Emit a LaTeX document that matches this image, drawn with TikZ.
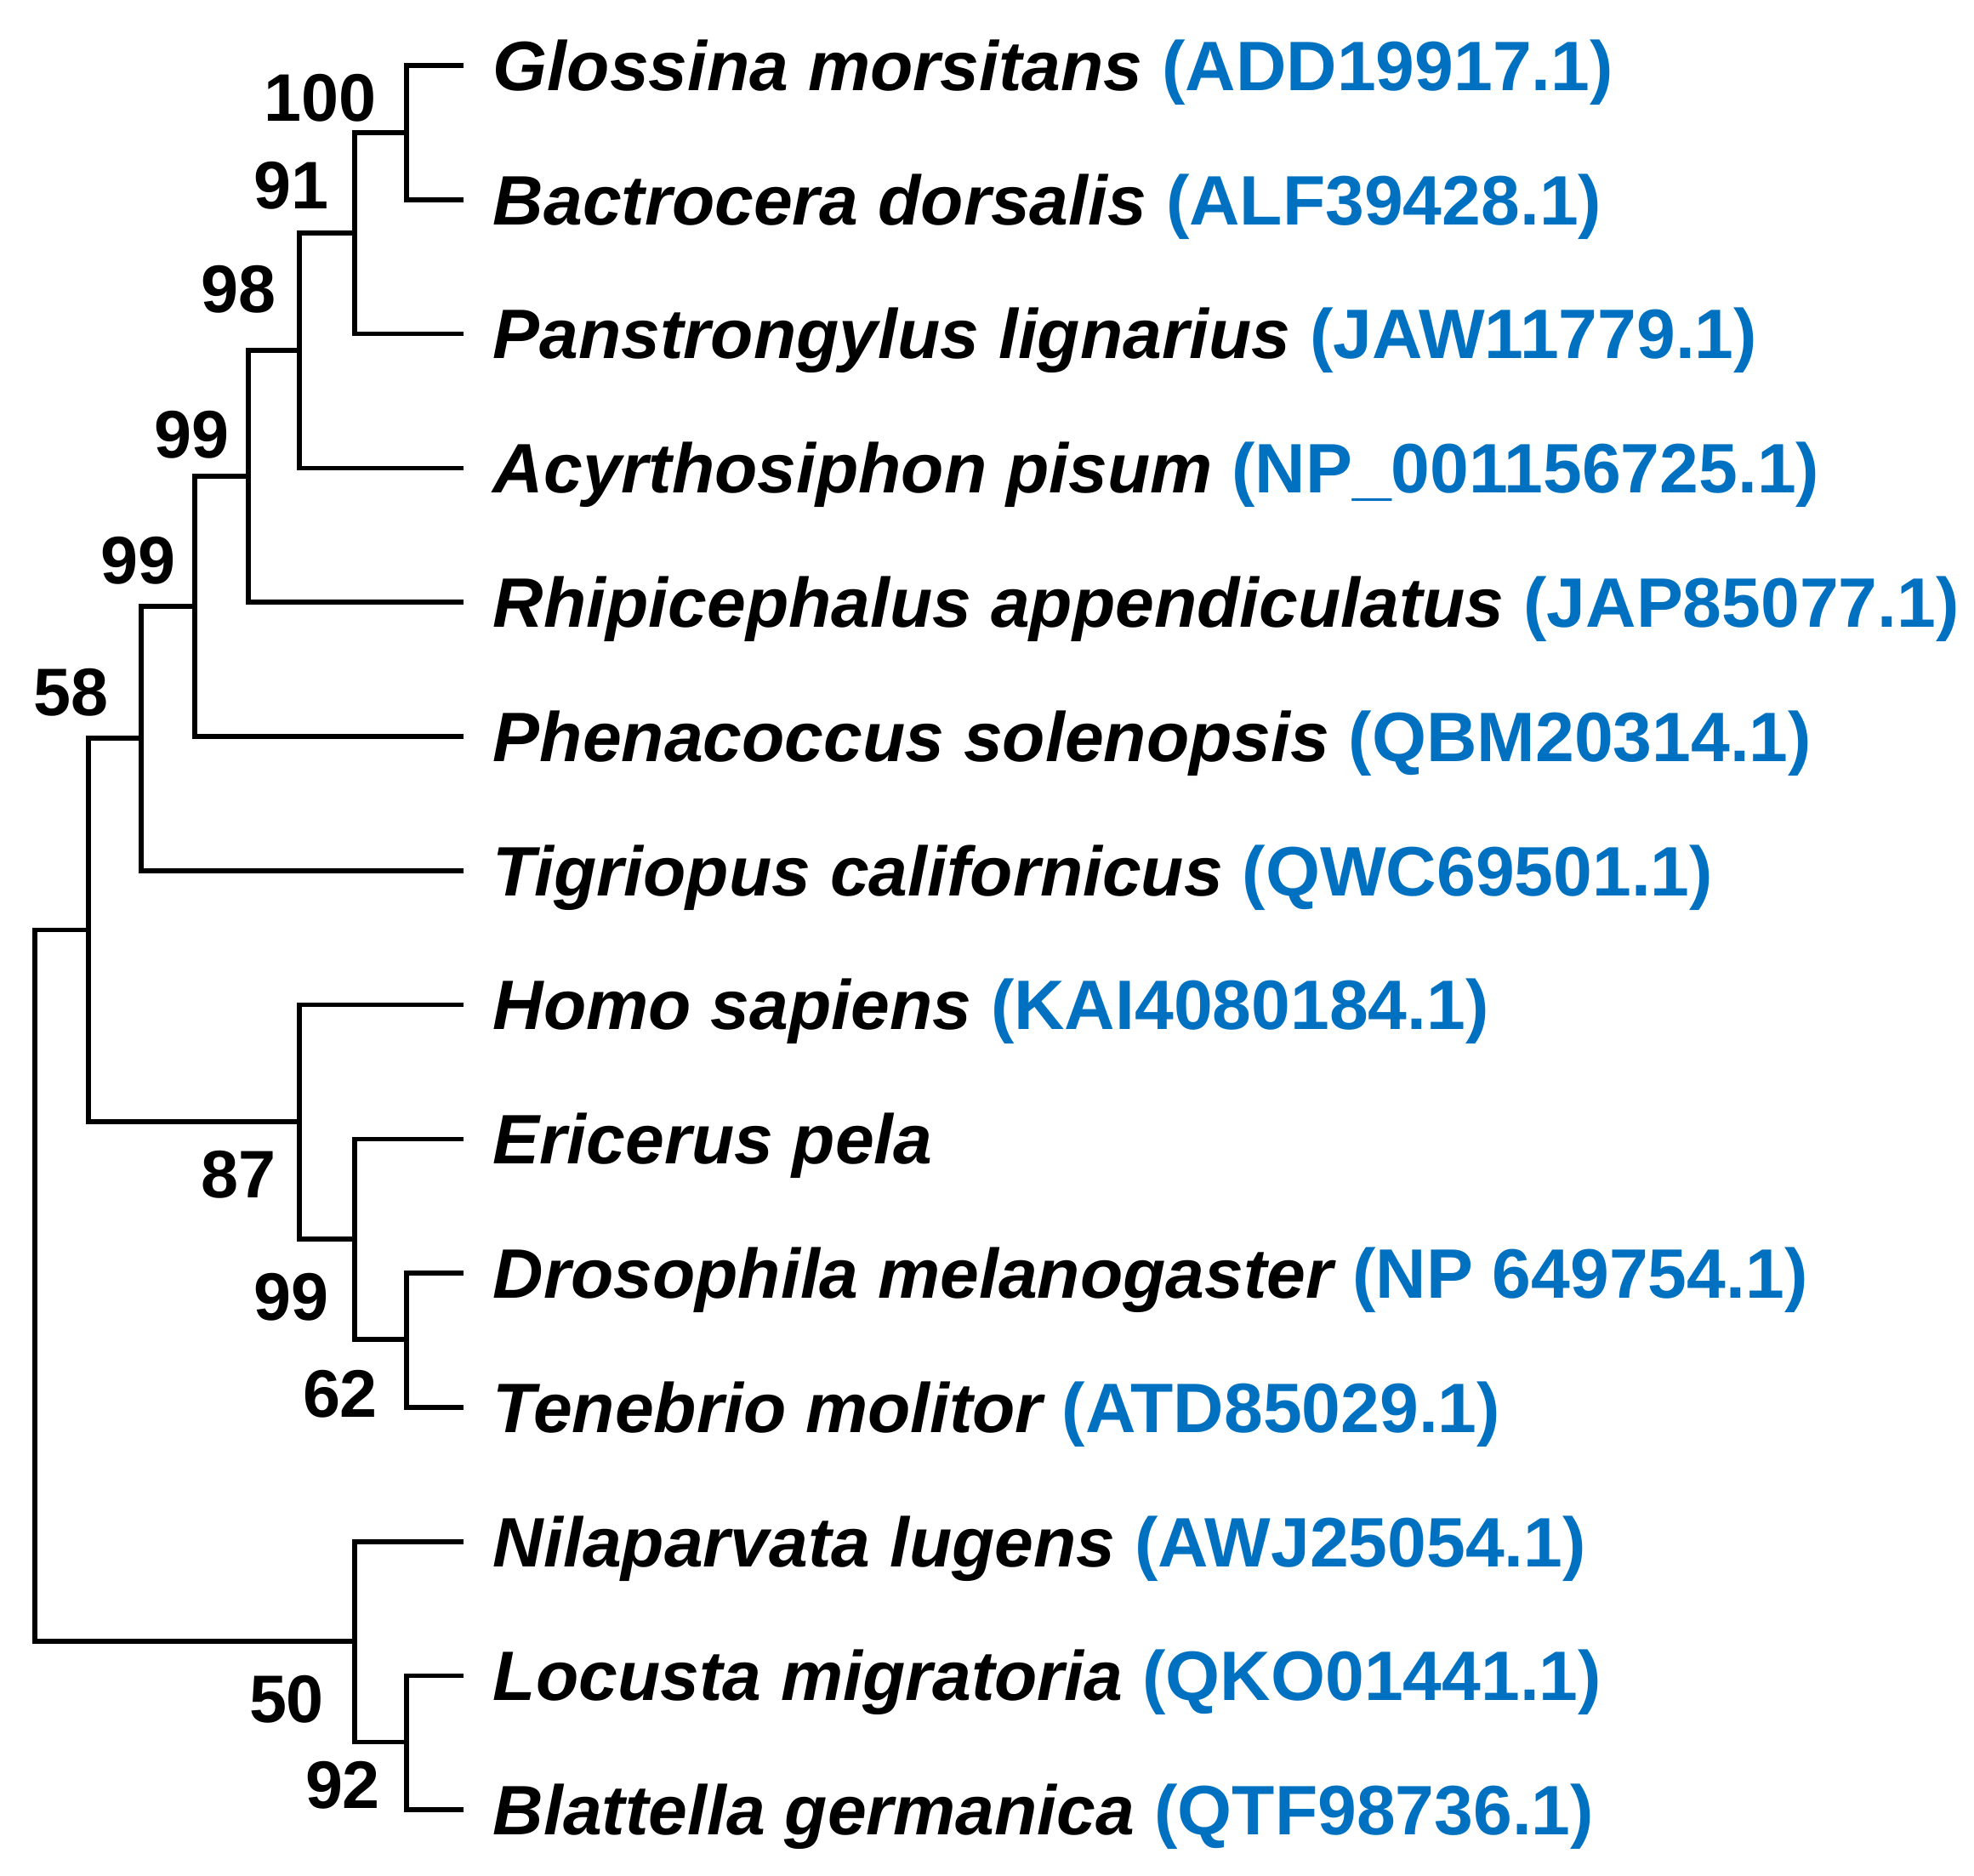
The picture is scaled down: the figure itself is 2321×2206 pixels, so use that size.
\documentclass[tikz,border=0pt]{standalone}
\usepackage{fontspec}
\setmainfont{Liberation Sans}
\usepackage{xcolor}
\usepackage{tikz}
\usetikzlibrary{positioning}
\definecolor{accblue}{RGB}{0,112,192}
\newcommand{\accno}[1]{\textcolor{accblue}{\upshape(#1)}}

\begin{document}
\begin{tikzpicture}[x=0.01cm,y=-0.01cm,line width=1.6pt,
    leaf/.style={inner sep=0pt,text height=16.7pt,text depth=0pt,
      font=\fontsize{23.4}{28}\selectfont\bfseries\itshape},
    boot/.style={inner sep=0pt,font=\fontsize{22.5}{27}\selectfont\bfseries}]
    \useasboundingbox (0,0) rectangle (2321,2206);
    % tips
    \coordinate (t1) at (545,77);
    \coordinate[below=1.577cm of t1] (t2);
    \coordinate[below=1.577cm of t2] (t3);
    \coordinate[below=1.577cm of t3] (t4);
    \coordinate[below=1.577cm of t4] (t5);
    \coordinate[below=1.577cm of t5] (t6);
    \coordinate[below=1.577cm of t6] (t7);
    \coordinate[below=1.577cm of t7] (t8);
    \coordinate[below=1.577cm of t8] (t9);
    \coordinate[below=1.577cm of t9] (t10);
    \coordinate[below=1.577cm of t10] (t11);
    \coordinate[below=1.577cm of t11] (t12);
    \coordinate[below=1.577cm of t12] (t13);
    \coordinate[below=1.577cm of t13] (t14);
    \node[leaf,right=0.32cm of t1] (glo) {Glossina morsitans \accno{ADD19917.1}};
    \node[leaf,right=0.32cm of t2] (bac) {Bactrocera dorsalis \accno{ALF39428.1}};
    \node[leaf,right=0.32cm of t3] (pan) {Panstrongylus lignarius \accno{JAW11779.1}};
    \node[leaf,right=0.32cm of t4] (acy) {Acyrthosiphon pisum \accno{NP\_001156725.1}};
    \node[leaf,right=0.32cm of t5] (rhi) {Rhipicephalus appendiculatus \accno{JAP85077.1}};
    \node[leaf,right=0.32cm of t6] (phe) {Phenacoccus solenopsis \accno{QBM20314.1}};
    \node[leaf,right=0.32cm of t7] (tig) {Tigriopus californicus \accno{QWC69501.1}};
    \node[leaf,right=0.32cm of t8] (hom) {Homo sapiens \accno{KAI4080184.1}};
    \node[leaf,right=0.32cm of t9] (eri) {Ericerus pela};
    \node[leaf,right=0.32cm of t10] (dro) {Drosophila melanogaster \accno{NP 649754.1}};
    \node[leaf,right=0.32cm of t11] (ten) {Tenebrio molitor \accno{ATD85029.1}};
    \node[leaf,right=0.32cm of t12] (nil) {Nilaparvata lugens \accno{AWJ25054.1}};
    \node[leaf,right=0.32cm of t13] (loc) {Locusta migratoria \accno{QKO01441.1}};
    \node[leaf,right=0.32cm of t14] (bla) {Blattella germanica \accno{QTF98736.1}};
    % inner nodes
    \coordinate (n1) at (478,155.9);
    \coordinate (n2) at (417,274.1);
    \coordinate (n3) at (352,412.1);
    \coordinate (n4) at (292,560);
    \coordinate (n5) at (229,712.7);
    \coordinate (n6) at (166,868);
    \coordinate (n10) at (478,1575.2);
    \coordinate (n9) at (417,1456.9);
    \coordinate (n8) at (352,1318.9);
    \coordinate (n7) at (104,1093.5);
    \coordinate (n12) at (478,2048.3);
    \coordinate (n11) at (417,1930);
    \coordinate (root) at (41,1511.7);
    \draw (t1) -| (n1) |- (t2);
    \draw (n1) -| (n2) |- (t3);
    \draw (n2) -| (n3) |- (t4);
    \draw (n3) -| (n4) |- (t5);
    \draw (n4) -| (n5) |- (t6);
    \draw (n5) -| (n6) |- (t7);
    \draw (t10) -| (n10) |- (t11);
    \draw (t9) -| (n9) |- (n10);
    \draw (t8) -| (n8) |- (n9);
    \draw (n6) -| (n7) |- (n8);
    \draw (t13) -| (n12) |- (t14);
    \draw (t12) -| (n11) |- (n12);
    \draw (n7) -| (root) |- (n11);
    % bootstrap values
    \node[boot] (b1) at (377,115) {100};
    \node[boot] (b2) at (343,218) {91};
    \node[boot] (b3) at (281,340) {98};
    \node[boot] (b4) at (226,511) {99};
    \node[boot] (b5) at (163,659) {99};
    \node[boot] (b6) at (84,814) {58};
    \node[boot] (b7) at (281,1381) {87};
    \node[boot] (b8) at (343,1525) {99};
    \node[boot] (b9) at (400,1639) {62};
    \node[boot] (b10) at (337,1998) {50};
    \node[boot] (b11) at (403,2099) {92};
\end{tikzpicture}
\end{document}
